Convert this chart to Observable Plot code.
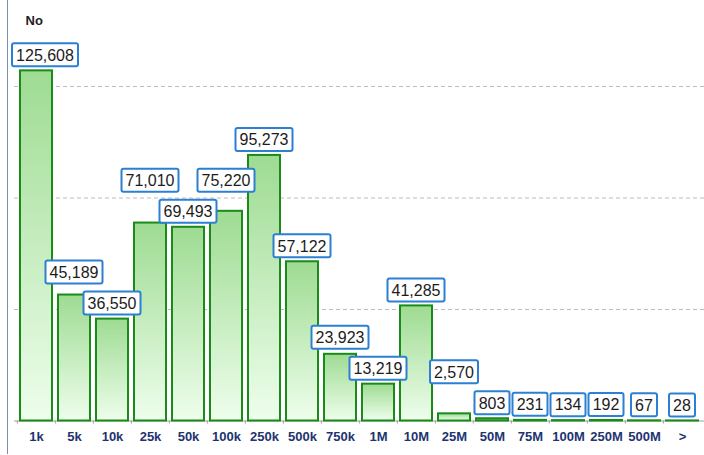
<!DOCTYPE html>
<html>
<head>
<meta charset="utf-8">
<script src="https://cdn.jsdelivr.net/npm/d3@7"></script>
<script src="https://cdn.jsdelivr.net/npm/@observablehq/plot@0.6"></script>
<style>
  html, body { margin: 0; padding: 0; background: #fff; }
  #chart svg { display: block; }
</style>
</head>
<body>
<div id="chart"></div>
<script>
// Size buckets and how many items fall in each
const categories = ["1k", "5k", "10k", "25k", "50k", "100k", "250k", "500k", "750k", "1M", "10M", "25M", "50M", "75M", "100M", "250M", "500M", ">"];
const counts = [125608, 45189, 36550, 71010, 69493, 75220, 95273, 57122, 23923, 13219, 41285, 2570, 803, 231, 134, 192, 67, 28];
const gridValues = [40000, 80000, 120000];
const yTitle = "No";

const data = categories.map((bucket, i) => ({bucket, count: counts[i]}));

const W = 704, H = 455;
const marginLeft = 14, marginRight = 0, marginTop = 86, marginBottom = 34.5;
const step = (W - marginLeft - marginRight) / categories.length;
const fmt = d3.format(",");
const fontFamily = "'Liberation Sans', Arial, Helvetica, sans-serif";
const labelFontSize = 16;

// Vertical green gradient shared by every bar
function barGradient() {
  const defs = d3.create("svg:defs");
  const g = defs.append("linearGradient")
    .attr("id", "barFill").attr("x1", 0).attr("y1", 0).attr("x2", 0).attr("y2", 1);
  g.append("stop").attr("offset", "0%").attr("stop-color", "#9edb92");
  g.append("stop").attr("offset", "100%").attr("stop-color", "#eefeec");
  return defs.node();
}

// Boxed value labels above the bars; a label that would crowd one below it is lifted
function valueLabels(index, scales, values, dims) {
  const sx = scales.x, sy = scales.y;
  let bw = sx.bandwidth;
  if (typeof bw === "function") bw = bw();
  if (bw == null) bw = scales.scales?.x?.bandwidth ?? step * 0.84;

  const ctx = document.createElement("canvas").getContext("2d");
  ctx.font = `${labelFontSize}px ${fontFamily}`;
  const h = 23, padX = 4, gap = 4, sep = 8;
  const leftBound = dims.marginLeft - 2;

  const items = data.map(d => {
    const text = fmt(d.count);
    const w = Math.round(ctx.measureText(text).width) + 2 * padX;
    const cx = sx(d.bucket) + bw / 2;
    const x0 = Math.max(cx - w / 2, leftBound);
    return {text, w, x0, bottom: sy(d.count) - gap};
  });

  const order = items.slice().sort((a, b) => b.bottom - a.bottom);
  const placed = [];
  for (const it of order) {
    let moved = true;
    while (moved) {
      moved = false;
      for (const p of placed) {
        const hOverlap = it.x0 < p.x0 + p.w && p.x0 < it.x0 + it.w;
        const vOverlap = it.bottom > p.bottom - h - sep && it.bottom - h < p.bottom + sep;
        if (hOverlap && vOverlap) {
          it.bottom = p.bottom - h - sep;
          moved = true;
        }
      }
    }
    placed.push(it);
  }

  const g = d3.create("svg:g").attr("aria-label", "value labels");
  for (const it of items) {
    g.append("rect")
      .attr("x", it.x0).attr("y", it.bottom - h)
      .attr("width", it.w).attr("height", h)
      .attr("rx", 2)
      .attr("fill", "#fff")
      .attr("stroke", "#2c80d3")
      .attr("stroke-width", 2);
    g.append("text")
      .attr("x", it.x0 + it.w / 2).attr("y", it.bottom - h / 2)
      .attr("dy", "0.36em")
      .attr("text-anchor", "middle")
      .attr("font-family", fontFamily)
      .attr("font-size", labelFontSize)
      .attr("fill", "#1c1c1c")
      .text(it.text);
  }
  return g.node();
}

const chart = Plot.plot({
  width: W,
  height: H,
  marginLeft, marginRight, marginTop, marginBottom,
  style: {fontFamily, background: "#fff", overflow: "visible"},
  x: {domain: categories, paddingInner: 0.16, paddingOuter: 0.08, label: null},
  y: {domain: [0, 120000], axis: null},
  marks: [
    barGradient,
    Plot.frame({anchor: "left", dx: -7, insetTop: -marginTop, insetBottom: -(marginBottom - 2), stroke: "#7b8db3"}),
    Plot.text([yTitle], {frameAnchor: "top-left", dx: 11, dy: -66, lineAnchor: "middle", fontSize: 13, fontWeight: "bold", fill: "#222"}),
    Plot.ruleY(gridValues, {stroke: "#bdbdbd", strokeDasharray: "4,3"}),
    Plot.ruleY([0], {stroke: "#a0a0a0"}),
    Plot.axisX({tickSize: 3, tickFormat: () => "", dx: -step / 2, stroke: "#9a9a9a", label: null}),
    Plot.axisX({tickSize: 0, tickPadding: 11, fontSize: 13, fontWeight: "bold", fill: "#1d3470", label: null}),
    Plot.barY(data, {x: "bucket", y: "count", fill: "url(#barFill)", stroke: "#188b18", strokeWidth: 2}),
    valueLabels
  ]
});

document.getElementById("chart").append(chart);
</script>
</body>
</html>
